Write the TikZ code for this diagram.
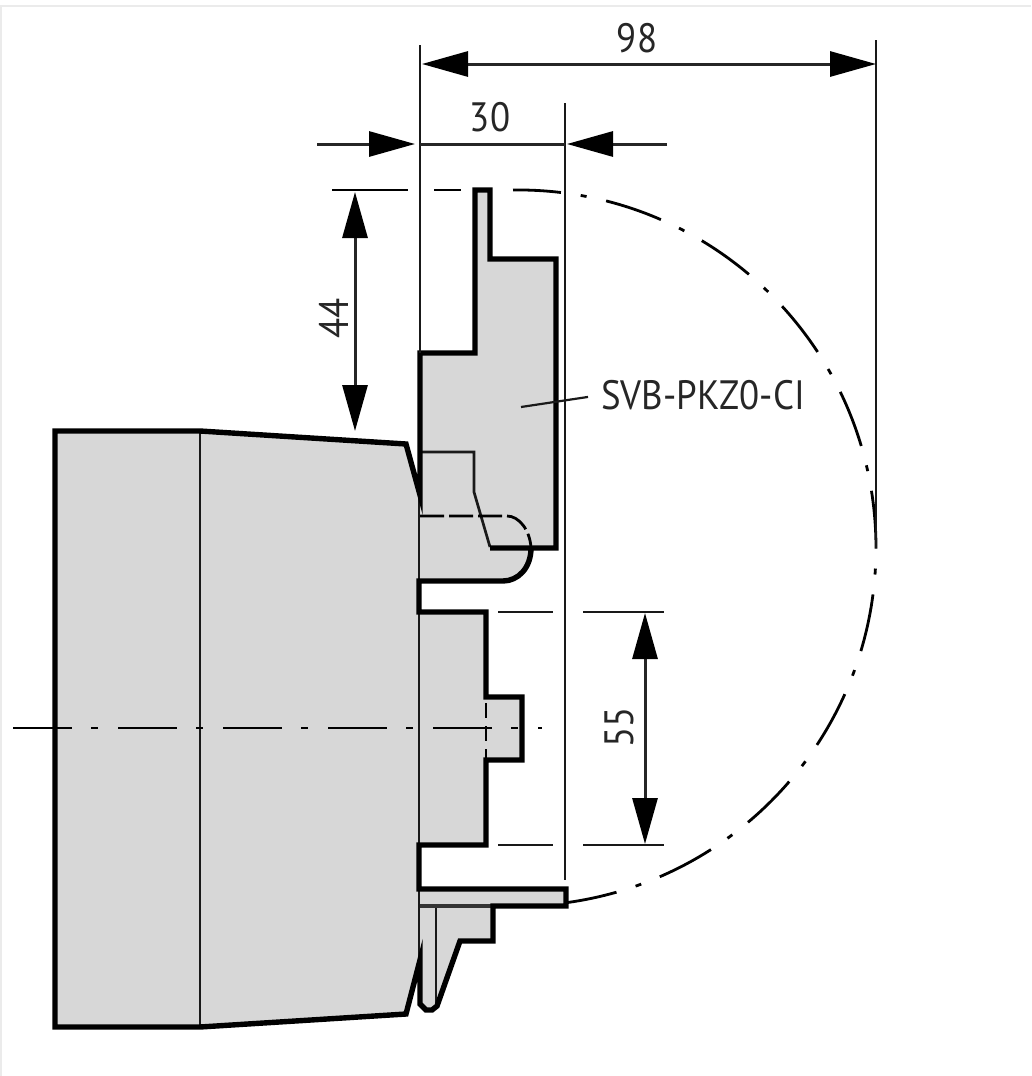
\documentclass[tikz,border=0pt]{standalone}
\usepackage{fontspec}
\setmainfont[FakeStretch=.9]{PT Sans}
\usetikzlibrary{arrows.meta}

\definecolor{housegray}{HTML}{D7D7D7}
\definecolor{framegray}{HTML}{EBEBEB}

\tikzset{
    thickline/.style={line width=5.4pt, line join=miter, black},
    thinline/.style={line width=2.7pt, black!90},
    dimline/.style={line width=3pt, black!85},
    dimend/.tip={Triangle[length=46pt,width=25pt,sep=0pt,color=black]},
    centerdash/.style={line width=2.8pt, black, dash pattern=on 59pt off 19pt on 7pt off 20pt},
    swingdash/.style={line width=2.8pt, black, dash pattern=on 58pt off 20pt on 6pt off 20pt},
    hiddendash/.style={line width=2.8pt, black, dash pattern=on 24pt off 5pt},
    dimlabel/.style={inner sep=0pt, font=\fontsize{41}{48}\selectfont, text=black!85},
}

\begin{document}
\begin{tikzpicture}[x=1pt,y=-1pt]

\pgfmathsetmacro\swingradius{358}

\useasboundingbox (0,0) rectangle (1031,1076);
\draw[line width=2pt, framegray] (1,1076) -- (1,6) -- (1031,6);

% gray areas
\fill[housegray] (55,431) -- (200,431) -- (406,444) -- (420,495) -- (420,353) -- (475,353) -- (475,190)
    -- (490,190) -- (490,259) -- (556,259) -- (556,548) -- (531,548)
    .. controls (531,568) and (518,581) .. (503,581) -- (419,581) -- (419,612) -- (486,612) -- (486,697)
    -- (522,697) -- (522,760) -- (486,760) -- (486,845) -- (419,845) -- (419,889) -- (566,889) -- (566,906)
    -- (493,906) -- (493,941) -- (460,941) -- (437,1006) -- (432,1010) -- (426,1010) -- (420,1004)
    -- (420,960) -- (406,1014) -- (200,1027) -- (55,1027) -- cycle;

% thin inner lines
\draw[thinline] (200,431) -- (200,1027);
\draw[thinline] (419,495) -- (419,581);
\draw[thinline] (419,612) -- (419,845);
\draw[thinline] (419,889) -- (419,960);
\draw[thinline] (420,452) -- (474,452) -- (474,492) -- (490,547);
\draw[thinline] (436,906) -- (436,1006);
\draw[line width=3.6pt, black!80] (420,906) -- (493,906);

% hidden edges
\draw[hiddendash] (420,516) -- (507,516) .. controls (519,516) and (530,530) .. (531,548);
\draw[line width=2.4pt, black, dash pattern=on 15pt off 8pt] (486,703) -- (486,760);

% outline
\draw[thickline] (490,548) -- (556,548) -- (556,259) -- (490,259) -- (490,190) -- (475,190) -- (475,353)
    -- (420,353) -- (420,495) -- (406,444) -- (200,431) -- (55,431) -- (55,1027) -- (200,1027) -- (406,1014)
    -- (420,960) -- (420,1004) -- (426,1010) -- (432,1010) -- (437,1006) -- (460,941) -- (493,941) -- (493,906)
    -- (566,906) -- (566,889) -- (419,889) -- (419,845) -- (486,845) -- (486,760) -- (522,760) -- (522,697)
    -- (486,697) -- (486,612) -- (419,612) -- (419,581) -- (503,581) .. controls (518,581) and (531,568) .. (531,548);

% center line and swing range
\draw[centerdash] (13,728) -- (542,728);
\draw[line width=2.8pt, black] (332,190) -- (408,190);
\draw[line width=2.8pt, black] (434,190) -- (461,190);
\draw[swingdash, dash phase=10pt] (513,190) arc[start angle=90.8, end angle=-82, radius=\swingradius pt];

% extension lines
\coordinate (ext98a) at (420,45);
\coordinate (ext98b) at (876,40);
\coordinate (ext30a) at (420,353);
\coordinate (ext30b) at (565,103);
\draw[thinline] (ext98a) -- (ext30a);
\draw[thinline] (ext98b) -- (876,548);
\draw[thinline] (ext30b) -- (565,880);
\foreach \stepy in {612, 845} {
    \draw[thinline] (498,\stepy) -- (553,\stepy);
    \draw[thinline] (583,\stepy) -- (664,\stepy);
}

% dimensions
\coordinate (dim98a) at (422,64);
\coordinate (dim98b) at (876,64);
\coordinate (dim30a) at (415,144);
\coordinate (dim30b) at (567,144);
\coordinate (dim30c) at (317,144);
\coordinate (dim30d) at (667,144);
\coordinate (dim30e) at (420,144);
\coordinate (dim30f) at (565,144);
\coordinate (dim44a) at (355,192);
\coordinate (dim44b) at (355,431);
\coordinate (dim55a) at (645,613);
\coordinate (dim55b) at (645,844);
\draw[dimline, {dimend}-{dimend}] (dim98a) -- (dim98b);
\draw[dimline, -{dimend}] (dim30c) -- (dim30a);
\draw[dimline, -{dimend}] (dim30d) -- (dim30b);
\draw[dimline] (dim30e) -- (dim30f);
\draw[dimline, {dimend}-{dimend}] (dim44a) -- (dim44b);
\draw[dimline, {dimend}-{dimend}] (dim55a) -- (dim55b);

% labels
\node[dimlabel] (label98) at (637,38) {98};
\node[dimlabel] (label30) at (490,117) {30};
\node[dimlabel, rotate=90] (label44) at (334,318) {44};
\node[dimlabel, rotate=90] (label55) at (619,727) {55};
\node[dimlabel] (labelsvb) at (703,395) {SVB-PKZ0-CI};
\coordinate (leaderend) at (521,407);
\draw[line width=2.2pt, black!90, shorten >=13pt] (leaderend) -- (labelsvb.west);

\end{tikzpicture}
\end{document}
